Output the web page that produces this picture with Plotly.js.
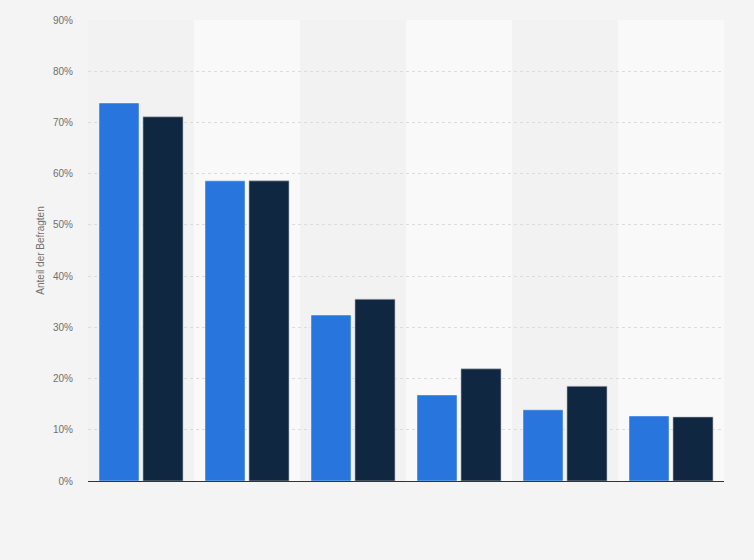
<!DOCTYPE html>
<html>
<head>
<meta charset="utf-8">
<script src="https://cdn.plot.ly/plotly-3.0.1.min.js"></script>
<style>
  html, body { margin: 0; padding: 0; background: #f4f4f4; }
  #plot { width: 754px; height: 560px; }
</style>
</head>
<body>
<div id="plot"></div>
<script>
// values (share of respondents, %)
var categories = ["Kategorie 1", "Kategorie 2", "Kategorie 3", "Kategorie 4", "Kategorie 5", "Kategorie 6"];
var seriesA = [73.8, 58.6, 32.4, 16.8, 13.9, 12.7];
var seriesB = [71.1, 58.6, 35.5, 21.9, 18.5, 12.5];
var yTicks = [0, 10, 20, 30, 40, 50, 60, 70, 80, 90];

var traceA = {x: categories,
              y: seriesA,
              type: "bar",
              name: "Serie 1",
              marker: {color: "#2876dd",
                       line: {color: "rgba(255,255,255,0.45)", width: 1}},
              hovertemplate: "%{y}%<extra></extra>"};

var traceB = {x: categories,
              y: seriesB,
              type: "bar",
              name: "Serie 2",
              marker: {color: "#0f2740",
                       line: {color: "rgba(190,190,190,0.6)", width: 1}},
              hovertemplate: "%{y}%<extra></extra>"};

// lighter background bands behind every second category
var bands = [];
categories.forEach(function (c, i) {
    if (i % 2 === 1) {
        bands.push({type: "rect", xref: "x", yref: "paper",
                    x0: i - 0.5, x1: i + 0.5, y0: 0, y1: 1,
                    fillcolor: "#f9f9f9", line: {width: 0}, layer: "below"});
    }
});

var layout = {
    width: 754,
    height: 560,
    paper_bgcolor: "#f4f4f4",
    plot_bgcolor: "#f2f2f2",
    margin: {l: 88, r: 30, t: 20, b: 79},
    barmode: "group",
    bargap: 0.17,
    bargroupgap: 0.09,
    showlegend: false,
    font: {family: "Liberation Sans, Arial, sans-serif", size: 10, color: "#707070"},
    shapes: bands,
    xaxis: {
        type: "category",
        showticklabels: false,
        showgrid: false,
        zeroline: false,
        showline: false,
        ticks: "",
        range: [-0.5, categories.length - 0.5]
    },
    yaxis: {
        range: [0, 90],
        tickvals: yTicks,
        ticktext: yTicks.map(function (v) { return v + "%"; }),
        showgrid: true,
        gridcolor: "#dcdcdc",
        griddash: "dot",
        gridwidth: 1,
        zeroline: true,
        zerolinecolor: "#333333",
        zerolinewidth: 1,
        ticks: "",
        ticklabelstandoff: 14,
        title: {text: "Anteil der Befragten", standoff: 6,
                font: {size: 10, color: "#707070"}}
    }
};

Plotly.newPlot("plot", [traceA, traceB], layout, {displayModeBar: false, staticPlot: true});
</script>
</body>
</html>
